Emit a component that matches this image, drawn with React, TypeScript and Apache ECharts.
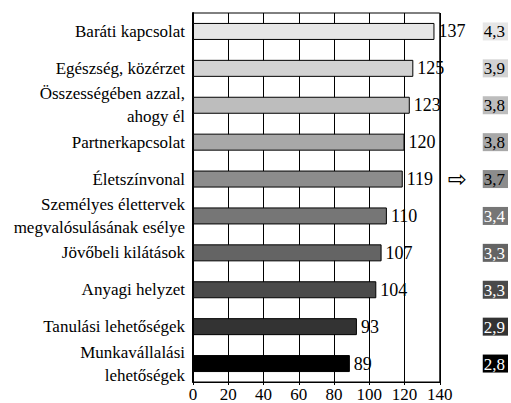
import React, { useEffect, useRef } from "react";
import * as echarts from "echarts";

const categories = [
  "Baráti kapcsolat",
  "Egészség, közérzet",
  "Összességében azzal,\nahogy él",
  "Partnerkapcsolat",
  "Életszínvonal",
  "Személyes élettervek\nmegvalósulásának esélye",
  "Jövőbeli kilátások",
  "Anyagi helyzet",
  "Tanulási lehetőségek",
  "Munkavállalási\nlehetőségek",
];
const values = [137, 125, 123, 120, 119, 110, 107, 104, 93, 89];
const scores = ["4,3", "3,9", "3,8", "3,8", "3,7", "3,4", "3,3", "3,3", "2,9", "2,8"];
const barColors = [
  "#e6e6e6", "#d2d2d2", "#bdbdbd", "#a8a8a8", "#8c8c8c",
  "#767676", "#646464", "#4a4a4a", "#333333", "#000000",
];
const scoreTextColors = [
  "#000", "#000", "#000", "#000", "#000",
  "#fff", "#fff", "#fff", "#fff", "#fff",
];
const arrowIndex = 4;
const xTicks = { min: 0, max: 140, interval: 20 };

const FONT = "Liberation Serif";

export default function App() {
  const ref = useRef<HTMLDivElement>(null);
  useEffect(() => {
    if (!ref.current) return;
    const chart = echarts.init(ref.current, undefined, { renderer: "svg" });
    const rich: Record<string, any> = {
      sp: { width: 35, fontSize: 13 },
      arrow: { width: 35, fontSize: 23, fontFamily: "DejaVu Sans", color: "#000", align: "left" },
    };
    scores.forEach((_, i) => {
      rich["c" + i] = {
        backgroundColor: barColors[i],
        color: scoreTextColors[i],
        fontFamily: FONT,
        fontSize: 17,
        padding: [1, 3, 0, 1],
        lineHeight: 16,
      };
    });
    chart.setOption({
      animation: false,
      textStyle: { fontFamily: FONT },
      grid: { left: 193, right: 69, top: 13, bottom: 21, show: true, borderColor: "#000", borderWidth: 1 },
      xAxis: {
        type: "value",
        min: xTicks.min,
        max: xTicks.max,
        interval: xTicks.interval,
        axisLine: { show: true, lineStyle: { color: "#000", width: 1 } },
        axisTick: { show: true, length: 3, lineStyle: { color: "#000" } },
        splitLine: { show: true, lineStyle: { color: "#000", width: 1 } },
        axisLabel: { color: "#000", fontFamily: FONT, fontSize: 17, margin: 4 },
      },
      yAxis: [
        {
          type: "category",
          data: categories,
          inverse: true,
          axisLine: { show: true, lineStyle: { color: "#000", width: 2 } },
          axisTick: { show: false },
          axisLabel: { color: "#000", fontFamily: FONT, fontSize: 17, margin: 8, lineHeight: 23, align: "right" },
        },
        {
          type: "category",
          data: categories,
          inverse: true,
          position: "right",
          axisLine: { show: false },
          axisTick: { show: false },
          axisLabel: {
            margin: 8,
            align: "left",
            formatter: (_v: string, i: number) =>
              (i === arrowIndex ? "{arrow|⇨}" : "{sp|}") + "{c" + i + "|" + scores[i] + "}",
            rich,
          },
        },
      ],
      series: [
        {
          type: "bar",
          yAxisIndex: 0,
          barWidth: 17,
          data: values.map((v, i) => ({
            value: v,
            itemStyle: { color: barColors[i], borderColor: "#000", borderWidth: 1 },
          })),
          label: {
            show: true,
            position: "right",
            distance: 4,
            color: "#000",
            fontFamily: FONT,
            fontSize: 18,
          },
        },
      ],
    });
    return () => chart.dispose();
  }, []);
  return (
    <div
      ref={ref}
      style={{ position: "fixed", left: 0, top: 0, width: 511, height: 403, background: "#fff" }}
    />
  );
}
